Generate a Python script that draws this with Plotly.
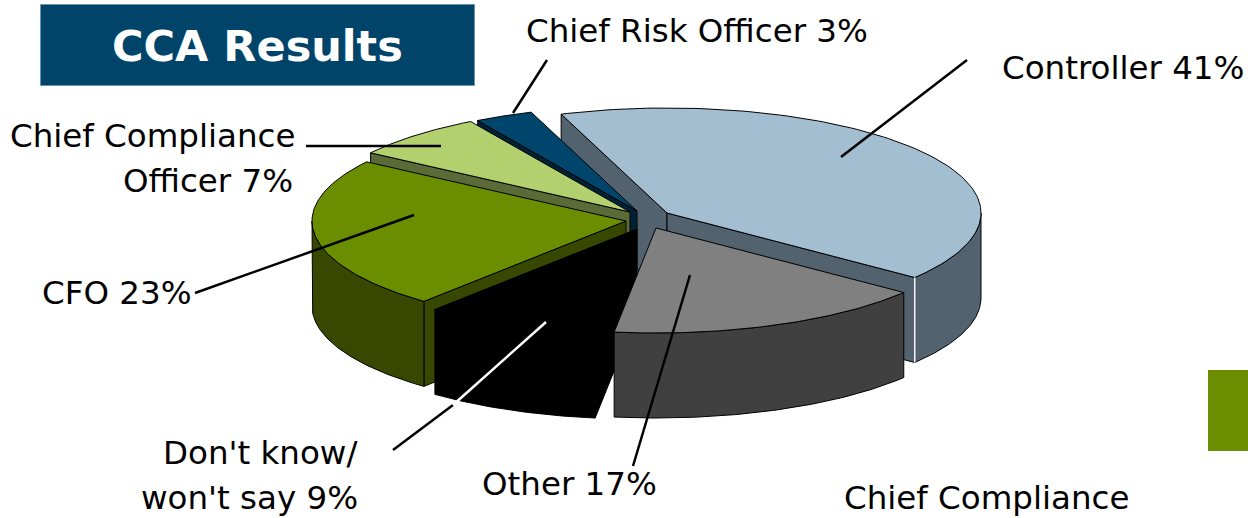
import numpy as np
import plotly.graph_objects as go

# ---- data ----
slice_names = ["Controller", "Other", "Don't know/won't say", "CFO", "Chief Compliance Officer", "Chief Risk Officer"]
slice_values = [41, 16.6, 9, 23.4, 7, 3]
top_colors = ["#a3bdd1", "#808080", "#000000", "#6b8e00", "#b2d16e", "#00456b"]
wall_colors = ["#52626e", "#404040", "#000000", "#384800", "#5a6b38", "#002236"]
# exploded position of every slice's apex
apex_x = [667, 656, 637, 626, 630, 637]
apex_y = [213, 228, 229, 221, 212, 211]
label_texts = ["Chief Risk Officer 3%", "Controller 41%", "Chief Compliance", "Officer 7%", "CFO 23%",
               "Don't know/", "won't say 9%", "Other 17%", "Chief Compliance"]
label_x = [870, 1246, 297, 295, 194, 359, 360, 659, 1131]
label_y = [31, 68, 136, 181, 293, 453, 498, 484, 498]
leader_x0 = [547, 967, 306, 195, 393, 633]
leader_y0 = [60, 60, 146, 293, 450, 466]
leader_x1 = [513, 841, 441, 414, 453, 690]
leader_y1 = [113, 157, 146, 215, 405, 275]

RX, RY, DEPTH = 314, 105, 85
START = -19.7
FONT = "DejaVu Sans"
LINE = "#000000"

fig = go.Figure()


def rim(cx, cy, t):
    r = np.radians(t)
    return cx + RX * np.sin(r), cy - RY * np.cos(r)


def poly(xs, ys, fill, lw=1):
    fig.add_trace(go.Scatter(x=list(xs) + [xs[0]], y=list(ys) + [ys[0]], mode="lines", fill="toself",
                             fillcolor=fill, line=dict(color=LINE, width=lw), hoverinfo="skip", showlegend=False))


def seg(x0, y0, x1, y1, color="#000000", w=2.5):
    fig.add_trace(go.Scatter(x=[x0, x1], y=[y0, y1], mode="lines", line=dict(color=color, width=w),
                             hoverinfo="skip", showlegend=False))


# angular spans from the values
spans = []
t = START
for v in slice_values:
    spans.append((t, t + v * 3.6))
    t += v * 3.6

# back-to-front painting order
order = [0, 5, 4, 3, 2, 1]
for i in order:
    t0, t1 = spans[i]
    cx, cy = apex_x[i], apex_y[i]
    # a cut face is only drawn when it turns towards the viewer
    faces = []
    if np.sin(np.radians(t0)) < 0:
        faces.append(t0)
    if np.sin(np.radians(t1)) > 0:
        faces.append(t1)
    for te in faces:
        ex, ey = rim(cx, cy, te)
        poly([cx, ex, ex, cx], [cy, ey, ey + DEPTH, cy + DEPTH], wall_colors[i])
    lo, hi = max(t0, 90), min(t1, 270)
    if hi > lo:
        ts = np.linspace(lo, hi, 80)
        xs, ys = rim(cx, cy, ts)
        poly(np.r_[xs, xs[::-1]], np.r_[ys, ys[::-1] + DEPTH], wall_colors[i])
    ts = np.linspace(t0, t1, 120)
    xs, ys = rim(cx, cy, ts)
    poly(np.r_[cx, xs], np.r_[cy, ys], top_colors[i])
    if i == 0:
        ex, ey = rim(cx, cy, t1)
        seg(ex, ey, ex, ey + DEPTH, "#ffffff", 1.5)

# leader lines
for x0, y0, x1, y1 in zip(leader_x0, leader_y0, leader_x1, leader_y1):
    seg(x0, y0, x1, y1)
# white part of the line that crosses the black slice
seg(453, 405, 546, 322, "#ffffff")

for txt, x, y in zip(label_texts, label_x, label_y):
    fig.add_annotation(x=x, y=y, text=txt, showarrow=False, xanchor="right", yanchor="middle",
                       font=dict(family=FONT, size=32.5, color="#000000"))
fig.add_annotation(x=257, y=46, text="<b>CCA Results</b>", showarrow=False, xanchor="center", yanchor="middle",
                   font=dict(family=FONT, size=43, color="#ffffff"))

fig.update_layout(
    width=1248, height=518, margin=dict(l=0, r=0, t=0, b=0), paper_bgcolor="white", plot_bgcolor="white",
    xaxis=dict(range=[0, 1248], visible=False, fixedrange=True),
    yaxis=dict(range=[518, 0], visible=False, fixedrange=True),
    showlegend=False,
    shapes=[
        dict(type="rect", x0=40.5, x1=474.5, y0=4.5, y1=85.5, fillcolor="#00446a", line=dict(color="#6f93ad", width=1), layer="below"),
        dict(type="rect", x0=1208, x1=1248, y0=370, y1=451, fillcolor="#6b8e00", line=dict(width=0), layer="below"),
    ],
)
fig.write_html("out.html", post_script="document.body.style.margin='0';document.documentElement.style.overflow='hidden';",
               config={"displayModeBar": False})
